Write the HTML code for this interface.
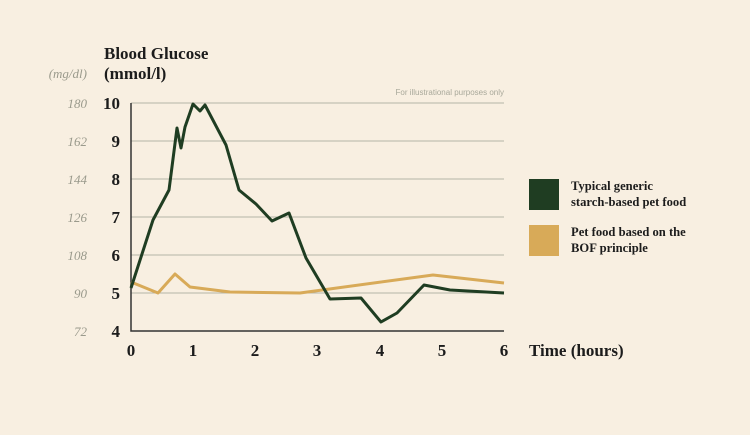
<!DOCTYPE html><html><head><style>body{margin:0;background:#f8efe1;}svg{display:block}</style></head><body>
<svg width="750" height="435" xmlns="http://www.w3.org/2000/svg" font-family="Liberation Serif, serif">
<rect width="750" height="435" fill="#f8efe1"/>
<text x="104" y="59" font-size="17" font-weight="bold" fill="#1c1c1c">Blood Glucose</text>
<text x="104" y="79" font-size="17" font-weight="bold" fill="#1c1c1c">(mmol/l)</text>
<text x="87" y="78" font-size="13" font-style="italic" fill="#9a9a8c" text-anchor="end">(mg/dl)</text>
<text x="504" y="95" font-size="8" fill="#a8a89a" text-anchor="end" font-family="Liberation Sans, sans-serif">For illustrational purposes only</text>
<g stroke="#b5b5a7" stroke-width="1">
<line x1="131" x2="504" y1="103" y2="103"/><line x1="131" x2="504" y1="141" y2="141"/><line x1="131" x2="504" y1="179" y2="179"/><line x1="131" x2="504" y1="217" y2="217"/><line x1="131" x2="504" y1="255" y2="255"/><line x1="131" x2="504" y1="293" y2="293"/>
</g>
<path d="M131 103V331H504" stroke="#333" stroke-width="1.5" fill="none"/>
<g font-size="17" font-weight="bold" fill="#1c1c1c" text-anchor="end">
<text x="120" y="109">10</text><text x="120" y="147">9</text><text x="120" y="185">8</text><text x="120" y="223">7</text><text x="120" y="261">6</text><text x="120" y="299">5</text><text x="120" y="337">4</text></g>
<g font-size="13" font-style="italic" fill="#9a9a8c" text-anchor="end">
<text x="87" y="108">180</text><text x="87" y="146">162</text><text x="87" y="184">144</text><text x="87" y="222">126</text><text x="87" y="260">108</text><text x="87" y="298">90</text><text x="87" y="336">72</text></g>
<g font-size="17" font-weight="bold" fill="#1c1c1c" text-anchor="middle">
<text x="131" y="356">0</text><text x="193" y="356">1</text><text x="255" y="356">2</text><text x="317" y="356">3</text><text x="380" y="356">4</text><text x="442" y="356">5</text><text x="504" y="356">6</text></g>
<text x="529" y="356" font-size="17" font-weight="bold" fill="#1c1c1c">Time (hours)</text>
<polyline fill="none" stroke="#d8aa58" stroke-width="3" stroke-linejoin="round" points="131,282 158,293 175,274 190,287 230,292 300,293 433,275 504,283"/>
<polyline fill="none" stroke="#1f3d22" stroke-width="3" stroke-linejoin="round" points="131,288 153,220 169,190 177,128 181,148 185,127 193,104 200,111 205,105 226,145 239,190 256,204 272,221 289,213 306,258 330,299 361,298 381,322 397,313 424,285 450,290 504,293"/>
<rect x="529" y="179" width="30" height="31" fill="#1f3d22"/>
<rect x="529" y="225" width="30" height="31" fill="#d8aa58"/>
<g font-size="12.6" fill="#1c1c1c" font-weight="bold">
<text x="571" y="190">Typical generic</text><text x="571" y="206">starch-based pet food</text>
<text x="571" y="236">Pet food based on the</text><text x="571" y="252">BOF principle</text></g>
</svg></body></html>
